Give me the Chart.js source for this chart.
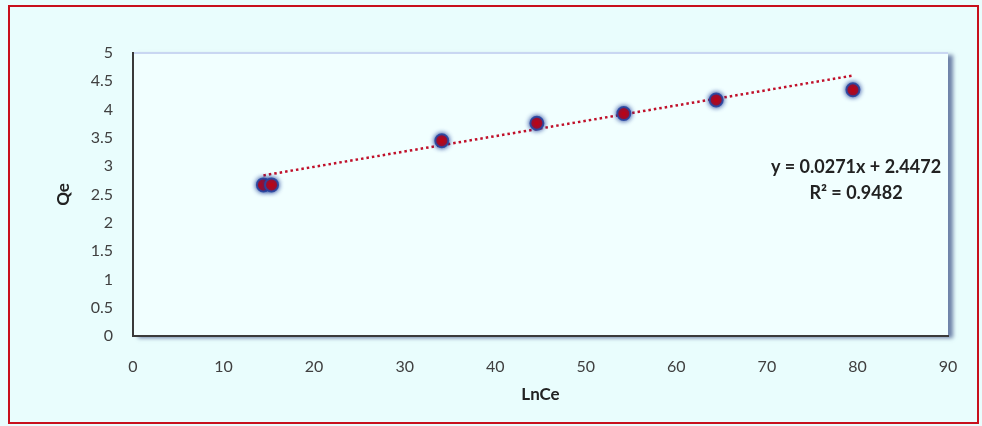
<!DOCTYPE html>
<html>
<head>
<meta charset="utf-8">
<script src="https://cdn.jsdelivr.net/npm/chart.js@4/dist/chart.umd.min.js"></script>
<style>
  html, body { margin: 0; padding: 0; background: #e9fdfd; }
  #wrap { width: 982px; height: 426px; }
</style>
</head>
<body>
<div id="wrap"><canvas id="myChart" width="982" height="426"></canvas></div>
<script>
// data
const lnCe = [14.4, 15.3, 34.1, 44.6, 54.2, 64.4, 79.5];
const qe = [2.67, 2.67, 3.45, 3.76, 3.93, 4.17, 4.35];
const xTicks = [0, 10, 20, 30, 40, 50, 60, 70, 80, 90];
const yTicks = [0, 0.5, 1, 1.5, 2, 2.5, 3, 3.5, 4, 4.5, 5];
const slope = 0.0271;
const intercept = 2.4472;
const eqText = "y = 0.0271x + 2.4472";
const r2Text = "R² = 0.9482";

const FONT = "Lato, 'Noto Sans', sans-serif";

// trendline from the equation, across the data range
const xMin = Math.min(...lnCe), xMax = Math.max(...lnCe);
const trend = [xMin, xMax].map(x => ({x: x, y: slope * x + intercept}));

const bgPlugin = {
    id: 'bgPlugin',
    beforeDraw(chart) {
        const {ctx, chartArea: a, width, height} = chart;
        ctx.save();
        ctx.fillStyle = '#e9fdfd';
        ctx.fillRect(0, 0, width, height);
        // red frame
        ctx.strokeStyle = '#c8101c';
        ctx.lineWidth = 2;
        ctx.strokeRect(9, 6, width - 13, height - 9);
        // plot area with shadow
        ctx.shadowColor = 'rgba(70,90,140,0.75)';
        ctx.shadowBlur = 4;
        ctx.shadowOffsetX = 5;
        ctx.shadowOffsetY = 2;
        ctx.fillStyle = '#f1ffff';
        ctx.fillRect(a.left, a.top, a.right - a.left, a.bottom - a.top);
        ctx.shadowColor = 'transparent';
        ctx.strokeStyle = '#c9d7f2';
        ctx.lineWidth = 2;
        ctx.beginPath();
        ctx.moveTo(a.left, a.top);
        ctx.lineTo(a.right, a.top);
        ctx.stroke();
        ctx.restore();
    },
    beforeDatasetDraw(chart, args) {
        if (args.index === 0) {
            chart.ctx.save();
            chart.ctx.shadowColor = 'rgba(25,55,150,0.95)';
            chart.ctx.shadowBlur = 5;
        }
    },
    afterDatasetDraw(chart, args) {
        if (args.index === 0) chart.ctx.restore();
    },
    afterDraw(chart) {
        const ctx = chart.ctx;
        ctx.save();
        ctx.fillStyle = '#222';
        ctx.font = 'bold 18px ' + FONT;
        ctx.textAlign = 'center';
        ctx.textBaseline = 'middle';
        ctx.fillText(eqText, 856, 167);
        ctx.fillText(r2Text, 856, 193);
        ctx.restore();
    }
};

new Chart(document.getElementById('myChart'), {
    data: {
        datasets: [
            {
                type: 'scatter',
                label: 'Qe',
                data: lnCe.map((x, i) => ({x: x, y: qe[i]})),
                backgroundColor: '#c8000c',
                borderColor: 'rgba(40,70,160,0.9)',
                borderWidth: 2,
                pointRadius: 6.5,
                pointHoverRadius: 6.5,
            },
            {
                type: 'line',
                label: 'Linear',
                data: trend,
                borderColor: '#c0102a',
                borderWidth: 2.5,
                borderDash: [2.5, 3],
                pointRadius: 0,
                fill: false,
            },
        ],
    },
    options: {
        responsive: false,
        animation: false,
        layout: {padding: {left: 51, top: 53, right: 34, bottom: 18}},
        plugins: {legend: {display: false}, tooltip: {enabled: false}},
        scales: {
            x: {
                type: 'linear',
                min: 0,
                max: 90,
                afterFit(scale) { scale.height = 72; },
                afterBuildTicks(scale) { scale.ticks = xTicks.map(v => ({value: v})); },
                grid: {display: false, drawTicks: false},
                border: {display: true, color: '#3a3a3a', width: 2},
                ticks: {padding: 21, color: '#404040', font: {family: FONT, size: 16},
                    callback: v => String(v)},
                title: {display: true, text: 'LnCe', color: '#222', padding: {top: 4, bottom: 3},
                    font: {family: FONT, size: 17, weight: 'bold'}},
            },
            y: {
                type: 'linear',
                min: 0,
                max: 5,
                afterFit(scale) { scale.width = 82; },
                afterBuildTicks(scale) { scale.ticks = yTicks.map(v => ({value: v})); },
                grid: {display: false, drawTicks: false},
                border: {display: true, color: '#3a3a3a', width: 2},
                ticks: {padding: 20, color: '#404040', font: {family: FONT, size: 16},
                    callback: v => String(v)},
                title: {display: true, text: 'Qe', color: '#222', padding: {top: 2, bottom: 4},
                    font: {family: FONT, size: 17, weight: 'bold'}},
            },
        },
    },
    plugins: [bgPlugin],
});
</script>
</body>
</html>
